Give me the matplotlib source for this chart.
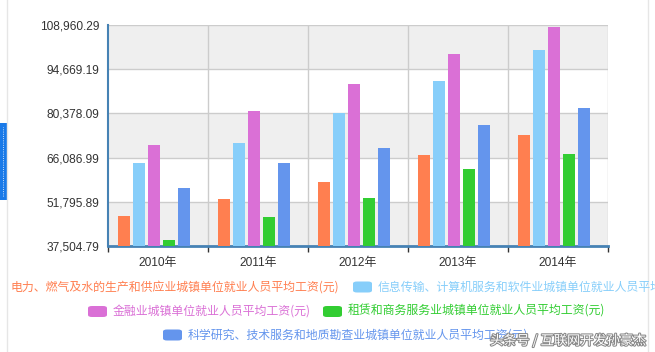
import numpy as np
import matplotlib
matplotlib.use("Agg")
import matplotlib.pyplot as plt
from matplotlib.patches import FancyBboxPatch, Rectangle
from matplotlib.lines import Line2D
import matplotlib.patheffects as pe

plt.rcParams['font.family'] = ['Liberation Sans', 'Noto Sans CJK SC', 'DejaVu Sans']

# data
years = ['2010年', '2011年', '2012年', '2013年', '2014年']
series_names = [
    '电力、燃气及水的生产和供应业城镇单位就业人员平均工资(元)',
    '信息传输、计算机服务和软件业城镇单位就业人员平均工资(元)',
    '金融业城镇单位就业人员平均工资(元)',
    '租赁和商务服务业城镇单位就业人员平均工资(元)',
    '科学研究、技术服务和地质勘查业城镇单位就业人员平均工资(元)',
]
power = [47309, 52723, 58202, 67085, 73339]
it_soft = [64436, 70918, 80510, 90915, 100845]
finance = [70146, 81109, 89743, 99653, 108273]
leasing = [39566, 46976, 53162, 62538, 67131]
science = [56376, 64252, 69254, 76602, 82259]
y_ticks = [37504.79, 51795.89, 66086.99, 80378.09, 94669.19, 108960.29]

colors = ['#ff7f50', '#87cefa', '#da70d6', '#32cd32', '#6495ed']
values = [power, it_soft, finance, leasing, science]

W, H = 655, 352
fig = plt.figure(figsize=(W / 100, H / 100), dpi=100)


def fx(px):
    return px / W


def fy(py):
    return 1 - py / H


ax = fig.add_axes([fx(108), fy(246), fx(608) - fx(108), fy(25) - fy(246)])

x = np.arange(len(years))
bar_w = 0.12
for i, (vals, c) in enumerate(zip(values, colors)):
    ax.bar(x - 0.34 + 0.15 * i, vals, width=bar_w, color=c, zorder=3)

ax.set_xlim(-0.5, len(years) - 0.5)
ax.set_ylim(y_ticks[0], y_ticks[-1])

# alternating background bands
for k in range(len(y_ticks) - 1):
    if k % 2 == 0:
        ax.axhspan(y_ticks[k], y_ticks[k + 1], color='#efefef', zorder=0, lw=0)
for t in y_ticks[1:]:
    ax.axhline(t, color='#cccccc', lw=1, zorder=1)
for b in np.arange(-0.5, len(years), 1.0)[1:]:
    ax.axvline(b, color='#cccccc', lw=1, zorder=1)

ax.set_yticks(y_ticks)
ax.set_yticklabels(['{:,.2f}'.format(v) for v in y_ticks])
ax.tick_params(axis='y', length=0, pad=6, labelsize=8.6, colors='#333333')
ax.set_xticks(x)
ax.set_xticklabels(years)
ax.tick_params(axis='x', length=0, pad=8, labelsize=8.6, colors='#333333')
ax.set_xticks(np.arange(-0.5, len(years), 1.0), minor=True)
ax.tick_params(axis='x', which='minor', length=4, width=1, color='#333333', direction='out')

for s in ['top', 'right']:
    ax.spines[s].set_visible(False)
ax.spines['left'].set_color('#4682b4')
ax.spines['left'].set_linewidth(1.5)
ax.spines['bottom'].set_color('#4682b4')
ax.spines['bottom'].set_linewidth(2)

# legend, placed by hand like the source
cjk = ['Noto Sans CJK SC', 'DejaVu Sans']
legend_pos = [(None, 10.7, 287), (353, 378, 287), (88, 113, 311.5), (323, 348, 311.5), (163, 188, 335)]
for (icon_x, text_x, cy), name, c in zip(legend_pos, series_names, colors):
    if icon_x is not None:
        fig.patches.append(FancyBboxPatch((fx(icon_x), fy(cy + 5.5)), fx(19), 11 / H,
                                          boxstyle='round,pad=0,rounding_size=0.006',
                                          transform=fig.transFigure, color=c, lw=0))
    fig.text(fx(text_x), fy(cy), name, color=c, fontsize=8.6, family=cjk, va='center', ha='left')

# page decorations
fig.patches.append(Rectangle((0, fy(200)), fx(6.7), fy(123) - fy(200), transform=fig.transFigure,
                             color='#1a7ae8', lw=0))
fig.lines.append(Line2D([fx(3), fx(3)], [fy(196), fy(127)], transform=fig.transFigure,
                        color='white', lw=0.6, ls=':'))
fig.lines.append(Line2D([fx(7.3), fx(7.3)], [0, 1], transform=fig.transFigure, color='#e6e6e6', lw=1))
fig.lines.append(Line2D([fx(648.3), fx(648.3)], [0, 1], transform=fig.transFigure, color='#e6e6e6', lw=1))

fig.text(fx(490), fy(341), '头条号 / 互联网开发孙豪杰', color='white', fontsize=9.5, family=cjk,
         va='center', ha='left',
         path_effects=[pe.withStroke(linewidth=1.5, foreground='#888888')])

fig.savefig('out.png', dpi=100)
